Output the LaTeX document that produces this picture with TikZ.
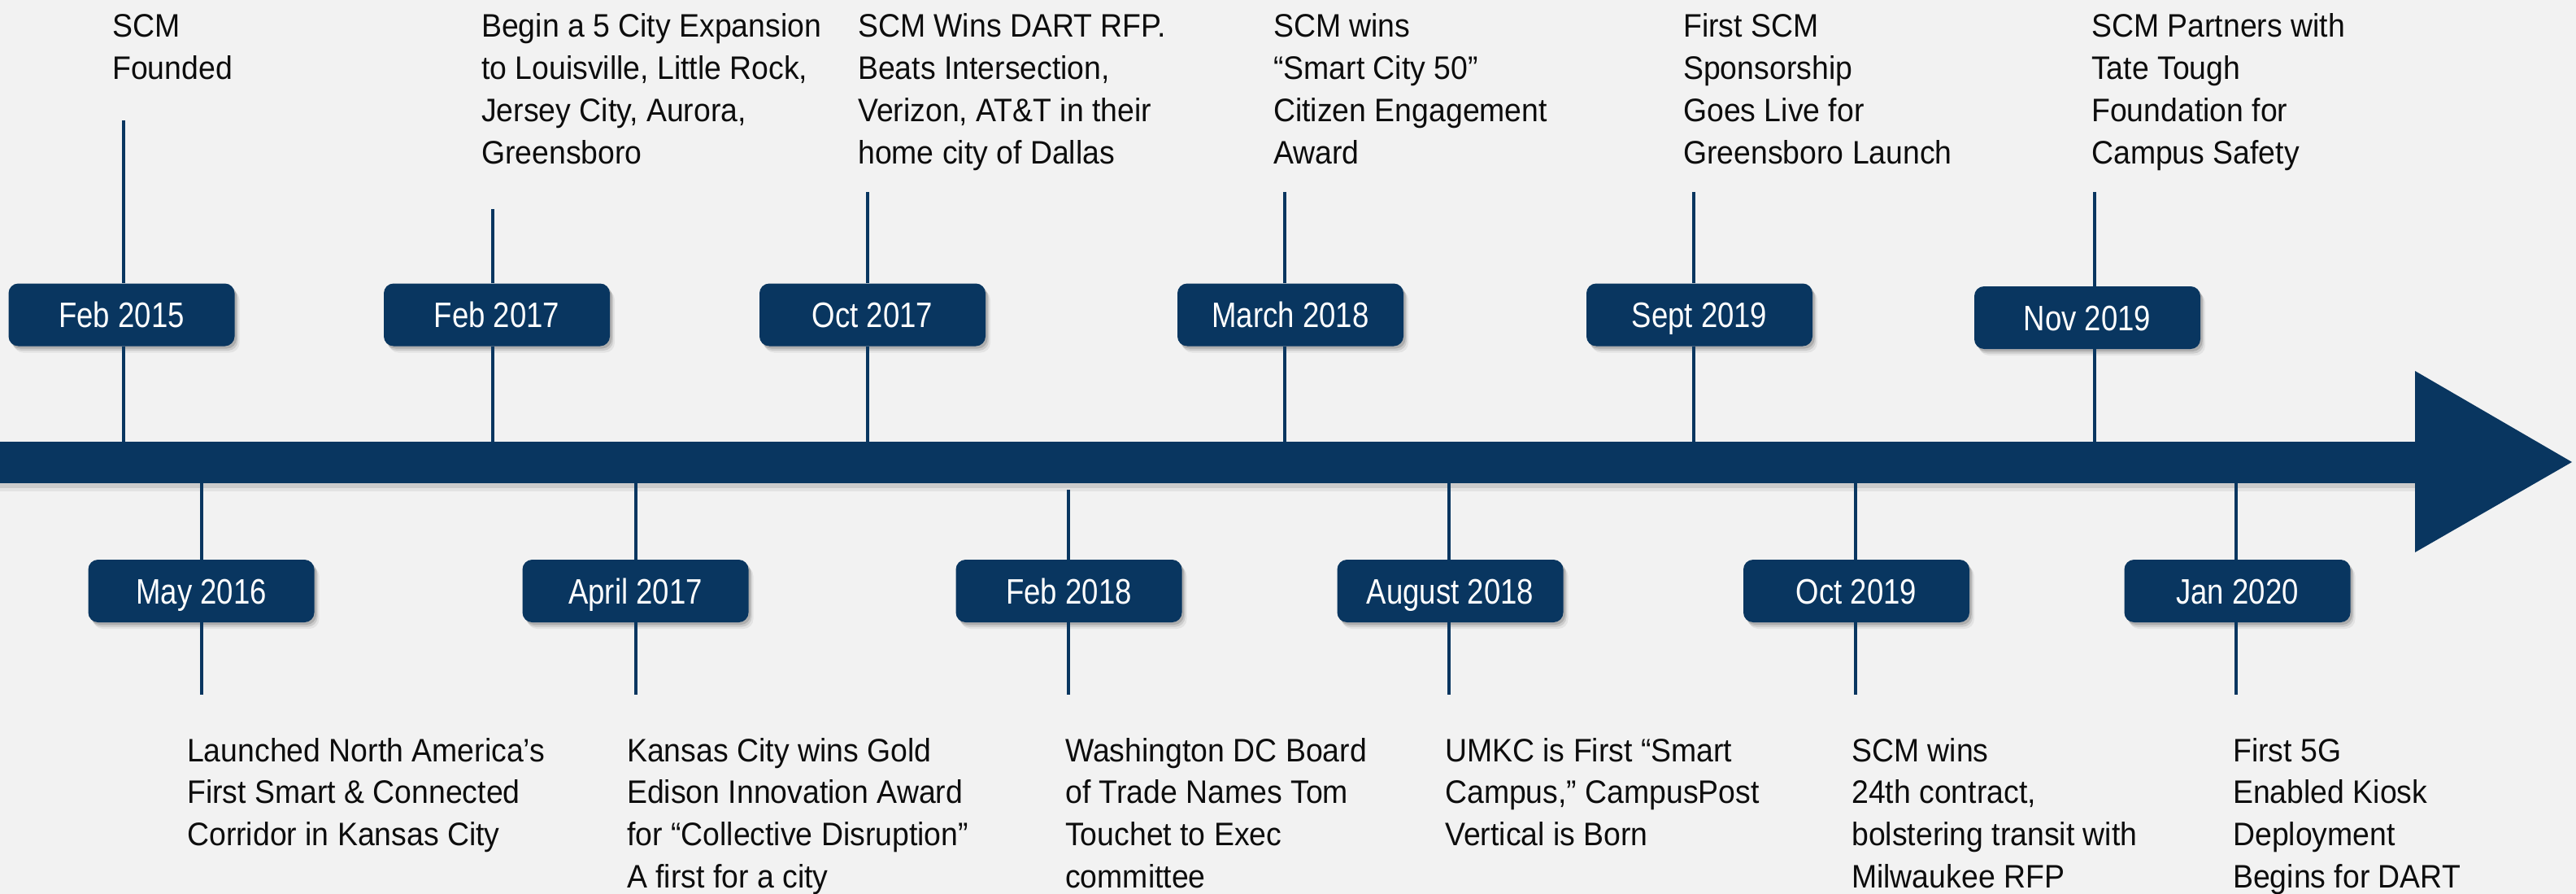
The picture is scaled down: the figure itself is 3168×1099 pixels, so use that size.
\documentclass[tikz,border=0pt]{standalone}
\usepackage{fontspec}
\setmainfont{Liberation Sans}[FakeStretch=0.935]
\newfontfamily\datefont{Liberation Sans}[FakeStretch=0.84]
\definecolor{navy}{HTML}{093660}
\definecolor{paper}{HTML}{F2F2F2}
\definecolor{ink}{HTML}{0D0D0D}

\begin{document}
\begin{tikzpicture}[x=1pt,y=-1pt,
  stem/.style={draw=navy, line width=4.5pt},
  softshadow/.style={
    preaction={fill=black, opacity=0.06, transform canvas={xshift=6pt,yshift=-8pt}},
    preaction={fill=black, opacity=0.10, transform canvas={xshift=4pt,yshift=-5.5pt}},
    preaction={fill=black, opacity=0.14, transform canvas={xshift=2.5pt,yshift=-3pt}}},
  datebox/.style={softshadow, fill=navy, rounded corners=12pt,
    minimum width=278pt, minimum height=77pt, inner sep=0pt, text=white,
    font=\datefont\fontsize{43.5}{50}\selectfont, text height=31.2pt, text depth=0pt},
  % multi-line notes are anchored on the baseline of their last line
  note/.style={anchor=base west, align=left, inner sep=0pt, text=ink,
    font=\fontsize{40}{51.7}\selectfont}]

% canvas
\fill[paper] (0,0) rectangle (3168,1099);
\useasboundingbox (0,0) rectangle (3168,1099);

% timeline arrow
\fill[black, opacity=0.06] (0,594) rectangle (2971,604);
\fill[black, opacity=0.10] (0,594) rectangle (2971,600);
\fill[navy] (0,543) rectangle (2971,594);
\fill[navy] (2970,456) -- (3163,568) -- (2970,679) -- cycle;

% dates above the arrow
\node[datebox] (d1) at (149.5,387) {Feb 2015};
\node[datebox] (d2) at (611,387) {Feb 2017};
\node[datebox] (d3) at (1073,387) {Oct 2017};
\node[datebox] (d4) at (1587,387) {March 2018};
\node[datebox] (d5) at (2090,387) {Sept 2019};
\node[datebox] (d6) at (2567,390.5) {Nov 2019};

% dates below the arrow
\node[datebox] (d7) at (247.5,726.5) {May 2016};
\node[datebox] (d8) at (781.5,726.5) {April 2017};
\node[datebox] (d9) at (1314.5,726.5) {Feb 2018};
\node[datebox] (d10) at (1783.5,726.5) {August 2018};
\node[datebox] (d11) at (2283,726.5) {Oct 2019};
\node[datebox] (d12) at (2751.5,726.5) {Jan 2020};

% stem ends
\coordinate (a1) at (152,148);  \coordinate (b1) at (152,543);
\coordinate (a2) at (606,257);  \coordinate (b2) at (606,543);
\coordinate (a3) at (1067,236); \coordinate (b3) at (1067,543);
\coordinate (a4) at (1580,236); \coordinate (b4) at (1580,543);
\coordinate (a5) at (2083,236); \coordinate (b5) at (2083,543);
\coordinate (a6) at (2576,236); \coordinate (b6) at (2576,543);
\coordinate (a7) at (248,594);  \coordinate (b7) at (248,854);
\coordinate (a8) at (782,594);  \coordinate (b8) at (782,854);
\coordinate (a9) at (1314,602); \coordinate (b9) at (1314,854);
\coordinate (a10) at (1782,594); \coordinate (b10) at (1782,854);
\coordinate (a11) at (2282,594); \coordinate (b11) at (2282,854);
\coordinate (a12) at (2750,594); \coordinate (b12) at (2750,854);

% stems through the date boxes
\foreach \i in {1,...,12}{
  \draw[stem] (a\i) -- (a\i |- d\i.north);
  \draw[stem] (a\i |- d\i.south) -- (b\i);
}

% milestone texts above (first baseline at 46, line pitch 51.7)
\node[note] (t1) at (138,97.7) {SCM\\Founded};
\node[note] (t2) at (592,201.1) {Begin a 5 City Expansion\\to Louisville, Little Rock,\\Jersey City, Aurora,\\Greensboro};
\node[note] (t3) at (1055,201.1) {SCM Wins DART RFP.\\Beats Intersection,\\Verizon, AT\&T in their\\home city of Dallas};
\node[note] (t4) at (1566,201.1) {SCM wins\\“Smart City 50”\\Citizen Engagement\\Award};
\node[note] (t5) at (2070,201.1) {First SCM\\Sponsorship\\Goes Live for\\Greensboro Launch};
\node[note] (t6) at (2572,201.1) {SCM Partners with\\Tate Tough\\Foundation for\\Campus Safety};

% milestone texts below (first baseline at 936)
\node[note] (t7) at (230,1039.4) {Launched North America’s\\First Smart \& Connected\\Corridor in Kansas City};
\node[note] (t8) at (771,1091.1) {Kansas City wins Gold\\Edison Innovation Award\\for “Collective Disruption”\\A first for a city};
\node[note] (t9) at (1310,1091.1) {Washington DC Board\\of Trade Names Tom\\Touchet to Exec\\committee};
\node[note] (t10) at (1777,1039.4) {UMKC is First “Smart\\Campus,” CampusPost\\Vertical is Born};
\node[note] (t11) at (2277,1091.1) {SCM wins\\24th contract,\\bolstering transit with\\Milwaukee RFP};
\node[note] (t12) at (2746,1091.1) {First 5G\\Enabled Kiosk\\Deployment\\Begins for DART};

\end{tikzpicture}
\end{document}
